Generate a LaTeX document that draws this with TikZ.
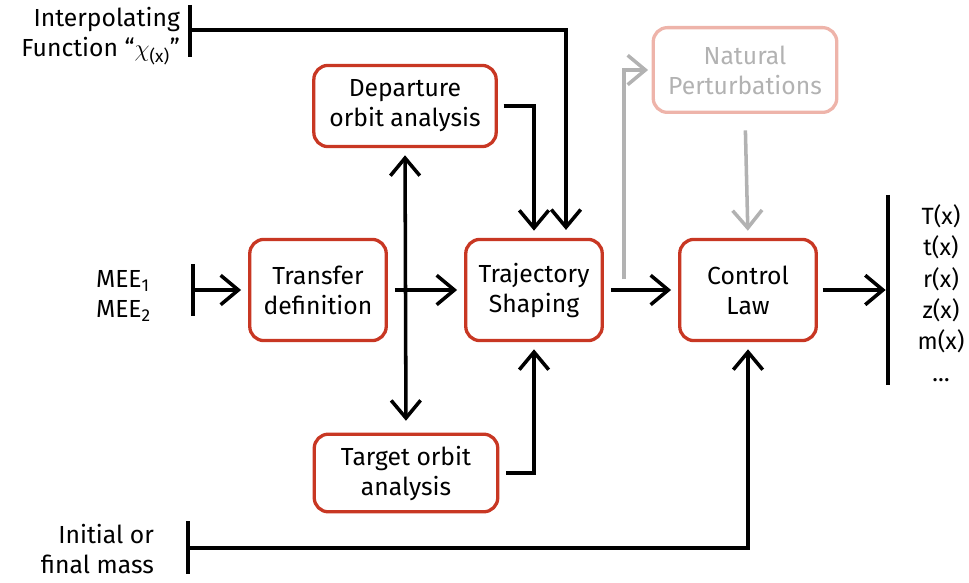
\documentclass[tikz,border=0pt]{standalone}
\usepackage{fontspec}
\setmainfont{Fira Sans}
\usetikzlibrary{arrows.meta}
\definecolor{boxred}{RGB}{200,55,35}
\definecolor{palered}{RGB}{238,180,170}
\definecolor{faint}{RGB}{178,178,178}

\begin{document}
\begin{tikzpicture}[x=0.85pt,y=-0.85pt,>={Straight Barb[length=15pt,width=25pt]},
  txt/.style={font=\fontsize{21}{25.5}\selectfont},
  blk/.style={txt,draw=boxred,line width=2.8pt,rounded corners=12pt,align=center,inner sep=2pt},
  wire/.style={line width=3pt,->,shorten >=6pt},
  gwire/.style={wire,faint},
  tick/.style={line width=3.2pt}]
\useasboundingbox(0,0)rectangle(969,583);
% blocks
\node[blk,minimum width=155pt,minimum height=69pt](dep)at(405,106){Departure\\orbit analysis};
\node[blk,minimum width=116pt,minimum height=86pt](trf)at(318,290){Transfer\\definition};
\node[blk,minimum width=116pt,minimum height=86pt](traj)at(534,290){Trajectory\\Shaping};
\node[blk,minimum width=116pt,minimum height=86pt](ctl)at(748,290){Control\\Law};
\node[blk,draw=palered,text=faint,minimum width=156pt,minimum height=72pt](nat)at(745,70){Natural\\Perturbations};
\node[blk,minimum width=156pt,minimum height=66pt](tgt)at(406,473){Target orbit\\analysis};
% inputs and outputs
\node[txt,align=right,anchor=east](ifn)at(184,36){Interpolating\\Function ``$\chi$\textsubscript{(x)}''};
\node[txt,align=left,anchor=east](mee)at(155,296){MEE\textsubscript{1}\\MEE\textsubscript{2}};
\node[txt,align=right,anchor=east](mass)at(158,549){Initial or\\final mass};
\node[txt,align=center,font=\fontsize{20}{26.7}\selectfont](outs)at(941,293){T(x)\\t(x)\\r(x)\\z(x)\\m(x)\\\dots};
\coordinate(ifbar)at(190,30);
\coordinate(ifin)at(566,237);
\coordinate(meebar)at(193,290);
\coordinate(massbar)at(188,548);
\coordinate(outbar)at(888,290);
\coordinate(gsrc)at(624,279);
\draw[tick](190,5)--(190,57)(193,264)--(193,316)(188,521)--(188,574)(888,195)--(888,385);
% connectors
\draw[wire](ifbar)-|(ifin);
\draw[wire,shorten <=5pt](dep.east)-|(traj.north);
\draw[wire,<->,shorten <=6pt,shorten >=10pt](dep.south)--(tgt.north);
\draw[wire](meebar)--(trf.west);
\draw[wire,shorten <=6pt](trf.east)--(traj.west);
\draw[wire,shorten <=6pt](tgt.east)-|(traj.south);
\draw[wire,shorten <=6pt](traj.east)--(ctl.west);
\draw[gwire,shorten >=3pt](gsrc)|-(nat.west);
\draw[gwire,shorten <=14pt](nat.south)--(ctl.north);
\draw[wire,shorten <=4pt,shorten >=2pt](ctl.east)--(outbar);
\draw[wire](massbar)-|(ctl.south);
\end{tikzpicture}
\end{document}
